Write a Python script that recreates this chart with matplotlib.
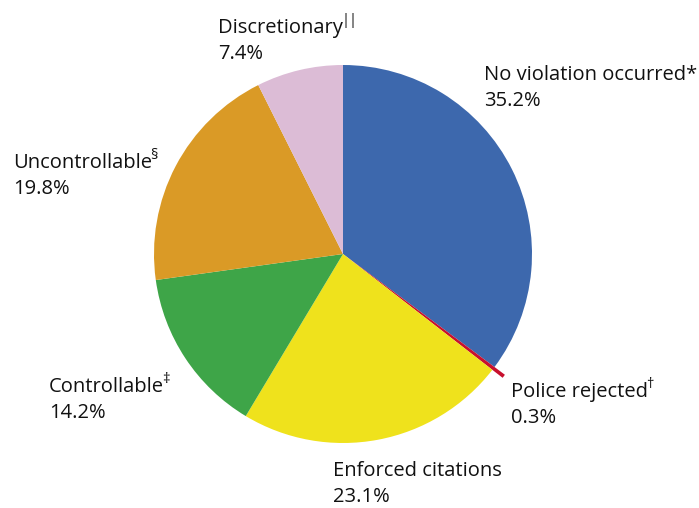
import matplotlib
matplotlib.use("Agg")
import matplotlib.pyplot as plt

categories = ["No violation occurred", "Police rejected", "Enforced citations",
              "Controllable", "Uncontrollable", "Discretionary"]
marks = ["*", "†", "", "‡", "§", "||"]
values = [35.2, 0.3, 23.1, 14.2, 19.8, 7.4]
colors = ["#3D68AD", "#C8102E", "#EFE21C", "#3EA548", "#DA9A26", "#DCBCD6"]

plt.rcParams['font.family'] = ['Open Sans', 'DejaVu Sans']

W, H = 699, 508
fig = plt.figure(figsize=(W / 100, H / 100), dpi=100)
ax = fig.add_axes([0, 0, 1, 1])
cx, cy, r = 343, H - 254, 189
wedges, _ = ax.pie(values, colors=colors, startangle=90, counterclock=False,
                   center=(cx, cy), radius=r, wedgeprops=dict(linewidth=0))
wedges[1].set_radius(202)
ax.set_xlim(0, W)
ax.set_ylim(0, H)
ax.set_aspect('equal')
ax.axis('off')

# label positions (pixel x, first baseline y)
pos = [(484, 80), (511, 397), (333, 476), (49, 392), (13, 168), (218, 33)]
fs = 14.5
renderer = fig.canvas.get_renderer()
for cat, mk, v, (x, y) in zip(categories, marks, values, pos):
    if mk == "*":
        t1 = fig.text(x / W, 1 - y / H, cat + "*", ha='left', va='baseline',
                      fontsize=fs, color='#111111')
    else:
        t1 = fig.text(x / W, 1 - y / H, cat, ha='left', va='baseline',
                      fontsize=fs, color='#111111')
        if mk:
            bb = t1.get_window_extent(renderer)
            fig.text((bb.x1 - 1.5) / W, 1 - (y - 9) / H, mk, ha='left', va='baseline',
                     fontsize=10.5, color='#111111')
    fig.text(x / W, 1 - (y + 26) / H, f"{v:.1f}%", ha='left', va='baseline',
             fontsize=fs, color='#111111')

fig.savefig("out.png", dpi=100)
